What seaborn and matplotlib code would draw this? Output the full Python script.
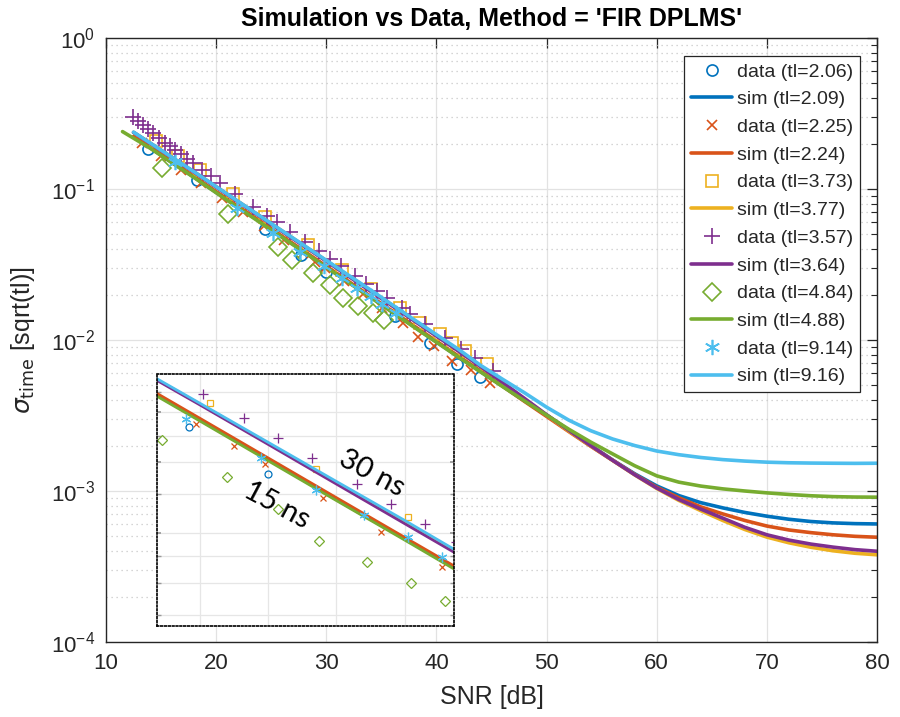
import matplotlib
matplotlib.use("Agg")
import matplotlib.pyplot as plt
import seaborn as sns
import numpy as np
from matplotlib.ticker import LogLocator, NullFormatter, FixedLocator

# ---------------- data ----------------
LABELS_DATA = ["data (tl=2.06)", "data (tl=2.25)", "data (tl=3.73)",
               "data (tl=3.57)", "data (tl=4.84)", "data (tl=9.14)"]
LABELS_SIM = ["sim (tl=2.09)", "sim (tl=2.24)", "sim (tl=3.77)",
              "sim (tl=3.64)", "sim (tl=4.88)", "sim (tl=9.16)"]
COLORS = ["#0072BD", "#D95319", "#EDB120", "#7E2F8E", "#77AC30", "#4DBEEE"]

# simulation curves (SNR grid in dB)
sim_snr = [12.5, 14, 16, 18, 20, 22, 24, 26, 28, 30, 32, 34, 36, 38, 40, 42, 44,
           46, 48, 50, 52, 54, 56, 58, 60, 62, 64, 66, 68, 70, 72, 74, 76, 78, 80]
sim_snr_green = [11.5, 14, 16, 18, 20, 22, 24, 26, 28, 30, 32, 34, 36, 38, 40, 42, 44,
                 46, 48, 50, 52, 54, 56, 58, 60, 62, 64, 66, 68, 70, 72, 74, 76, 78, 80]
sim_blue = [0.2205, 0.1875, 0.1498, 0.1196, 0.0950, 0.0758, 0.0606, 0.0481, 0.0383,
            0.0305, 0.0242, 0.0193, 0.01537, 0.01221, 0.00972, 0.00774, 0.00618,
            0.00496, 0.00396, 0.00318, 0.00253, 0.00201, 0.001603, 0.0013, 0.001081,
            0.000933, 0.000837, 0.000773, 0.000721, 0.000681, 0.00065, 0.000628,
            0.000615, 0.000608, 0.000605]
sim_orange = [0.2225, 0.1895, 0.1514, 0.1208, 0.0960, 0.0766, 0.0612, 0.0486, 0.0387,
              0.0308, 0.0245, 0.0195, 0.01553, 0.01234, 0.00982, 0.00782, 0.00623,
              0.00495, 0.00392, 0.00312, 0.00248, 0.00198, 0.001596, 0.001288,
              0.001059, 0.000902, 0.000785, 0.000705, 0.000638, 0.000586, 0.000552,
              0.00053, 0.000513, 0.000501, 0.000494]
sim_yellow = [0.237, 0.2015, 0.1617, 0.1297, 0.1035, 0.0826, 0.0659, 0.0526, 0.0420,
              0.0335, 0.0267, 0.0213, 0.01693, 0.01346, 0.0107, 0.0085, 0.00669,
              0.00521, 0.00406, 0.00318, 0.0025, 0.00199, 0.001596, 0.001279,
              0.00104, 0.000867, 0.000741, 0.000638, 0.000556, 0.000495, 0.000454,
              0.000424, 0.000402, 0.000387, 0.000378]
sim_purple = [0.237, 0.2010, 0.1612, 0.1292, 0.1030, 0.0822, 0.0656, 0.0523, 0.0418,
              0.0333, 0.0265, 0.0211, 0.0168, 0.01337, 0.01063, 0.00845, 0.00668,
              0.00524, 0.0041, 0.0032, 0.00253, 0.002, 0.001596, 0.001282, 0.001047,
              0.000879, 0.000759, 0.000661, 0.000575, 0.000513, 0.000473, 0.000445,
              0.000425, 0.000409, 0.000399]
sim_green = [0.240, 0.1865, 0.1490, 0.1190, 0.0945, 0.0752, 0.0600, 0.0478, 0.0381,
             0.0303, 0.0241, 0.0192, 0.01525, 0.01213, 0.00967, 0.0077, 0.00615,
             0.00492, 0.00395, 0.00318, 0.00257, 0.00211, 0.00176, 0.00147, 0.00126,
             0.001145, 0.001078, 0.001033, 0.001, 0.000972, 0.000949, 0.00093,
             0.000918, 0.000912, 0.00091]
sim_cyan = [0.238, 0.2020, 0.1620, 0.1300, 0.1037, 0.0828, 0.0661, 0.0528, 0.0422,
            0.0337, 0.0269, 0.0215, 0.01708, 0.0136, 0.01085, 0.00868, 0.0068,
            0.0055, 0.00447, 0.00359, 0.00295, 0.00251, 0.00221, 0.002, 0.00184,
            0.00174, 0.001667, 0.001614, 0.001578, 0.001552, 0.001538, 0.001531,
            0.001527, 0.001524, 0.001527]

# measured data points
data_blue_snr = [13.8, 18.3, 24.4, 27.7, 30.0, 36.2, 39.4, 41.9, 44.0]
data_blue = [0.185, 0.114, 0.0547, 0.0368, 0.0280, 0.0145, 0.0095, 0.0069, 0.0057]
data_orange_snr = [13.3, 15.0, 16.8, 18.6, 20.5, 22.4, 24.3, 26.2, 27.9, 29.0, 29.9,
                   31.6, 33.3, 35.1, 37.0, 38.3, 39.8, 41.4, 43.1, 44.9]
data_orange = [0.201, 0.165, 0.134, 0.109, 0.0878, 0.0706, 0.0567, 0.0456, 0.0375,
               0.0330, 0.0298, 0.0245, 0.0201, 0.0164, 0.0129, 0.0104, 0.0091,
               0.0073, 0.0063, 0.0052]
data_yellow_snr = [14.5, 16.5, 18.5, 21.5, 24.4, 28.3, 31.4, 34.1, 36.7, 38.5, 40.3,
                   41.4, 42.6, 44.6]
data_yellow = [0.207, 0.165, 0.133, 0.092, 0.0648, 0.0423, 0.0289, 0.0219, 0.0164,
               0.0129, 0.0110, 0.0096, 0.0085, 0.0069]
data_purple_snr = [12.45, 12.9, 13.36, 13.81, 14.27, 14.81, 15.36, 15.81, 16.27, 16.81,
                   17.36, 17.9, 18.72, 19.5, 20.35, 21.7, 23.35, 24.6, 25.5, 26.7,
                   28.1, 29.3, 30.3, 31.3, 32.6, 33.6, 34.6, 35.5, 36.9, 37.6, 39.0,
                   40.8, 42.2, 43.5, 45.1]
data_purple = [0.298, 0.2805, 0.264, 0.2485, 0.2338, 0.218, 0.2028, 0.1924, 0.181,
               0.170, 0.1585, 0.149, 0.1344, 0.1218, 0.1094, 0.0929, 0.0762, 0.066,
               0.060, 0.0523, 0.0445, 0.0388, 0.0345, 0.0308, 0.0265, 0.0236, 0.0211,
               0.0190, 0.0162, 0.0149, 0.0127, 0.0103, 0.00877, 0.00755, 0.00628]
data_green_snr = [15.1, 21.1, 25.6, 26.9, 28.8, 30.3, 31.5, 32.9, 34.2, 35.2]
data_green = [0.137, 0.0688, 0.0410, 0.0341, 0.0276, 0.0230, 0.0191, 0.0169, 0.0150,
              0.0135]
data_cyan_snr = [16.3, 21.9, 25.2, 27.6, 29.8, 31.4, 32.8, 34.1, 35.1, 36.3]
data_cyan = [0.152, 0.0754, 0.0515, 0.0385, 0.0308, 0.0256, 0.0222, 0.0195, 0.0174,
             0.0150]

X_TICKS = [10, 20, 30, 40, 50, 60, 70, 80]

# ---------------- styling ----------------
sns.set_theme(style="white")
plt.rcParams["font.family"] = ["Liberation Sans", "DejaVu Sans"]
plt.rcParams["axes.edgecolor"] = "#262626"
plt.rcParams["text.color"] = "#262626"

DATA_SNR = [data_blue_snr, data_orange_snr, data_yellow_snr, data_purple_snr,
            data_green_snr, data_cyan_snr]
DATA_VAL = [data_blue, data_orange, data_yellow, data_purple, data_green, data_cyan]
SIM_SNR = [sim_snr, sim_snr, sim_snr, sim_snr, sim_snr_green, sim_snr]
SIM_VAL = [sim_blue, sim_orange, sim_yellow, sim_purple, sim_green, sim_cyan]
MARKERS = ["o", "x", "s", "+", "D", (6, 2, 0)]
MSIZE = [8, 7, 8, 11, 9.5, 11]
MSIZE_IN = [5, 5, 5, 7, 5.5, 7]

fig = plt.figure(figsize=(9.0, 7.17), dpi=100)
ax = fig.add_axes([106 / 900, 1 - 642 / 717, 771 / 900, 604 / 717])
ax.set_yscale("log")

for i in range(6):
    sns.lineplot(x=DATA_SNR[i], y=DATA_VAL[i], ax=ax, estimator=None, sort=False,
                 linestyle="none", marker=MARKERS[i], markersize=MSIZE[i],
                 markerfacecolor="none", markeredgecolor=COLORS[i],
                 markeredgewidth=1.2, color=COLORS[i], label=LABELS_DATA[i])
    sns.lineplot(x=SIM_SNR[i], y=SIM_VAL[i], ax=ax, estimator=None, sort=False,
                 color=COLORS[i], linewidth=2.6, label=LABELS_SIM[i])

ax.set_xlim(10, 80)
ax.set_ylim(1e-4, 1)
ax.set_xticks(X_TICKS)
ax.yaxis.set_major_locator(LogLocator(base=10, numticks=10))
ax.yaxis.set_minor_locator(LogLocator(base=10, subs=np.arange(2, 10), numticks=20))
ax.yaxis.set_minor_formatter(NullFormatter())
ax.grid(which="major", color="#e2e2e2", linewidth=0.9, linestyle="-")
ax.grid(which="minor", axis="y", color="#c8c8c8", linewidth=0.9, linestyle=(0, (1, 3)))
ax.set_axisbelow(True)
ax.tick_params(which="both", direction="in", top=True, right=True, color="#262626",
               labelcolor="#262626")
ax.tick_params(which="major", length=7, width=0.9, labelsize=16, pad=8)
ax.tick_params(which="minor", length=4, width=0.8)
ax.tick_params(axis="x", which="minor", bottom=False, top=False)
for s in ax.spines.values():
    s.set_linewidth(1.0)
    s.set_color("#262626")

ax.set_title("Simulation vs Data, Method = 'FIR DPLMS'", fontsize=18,
             fontweight="bold", pad=9, color="black")
ax.set_xlabel("SNR [dB]", fontsize=18, labelpad=8, color="#262626")
ax.set_ylabel(r"$\sigma_{\rm time}$ [sqrt(tl)]", fontsize=18, labelpad=10,
              color="#262626")

leg = ax.legend(loc="upper right", bbox_to_anchor=(0.978, 0.970), borderaxespad=0,
                fontsize=14, frameon=True, fancybox=False, framealpha=1,
                edgecolor="#262626", labelspacing=0.52, borderpad=0.35,
                handlelength=2.1, handletextpad=0.25)
leg.get_frame().set_linewidth(0.9)

# ---------------- inset ----------------
axi = fig.add_axes([157 / 900, 1 - 626 / 717, 297 / 900, 252 / 717])
axi.set_yscale("log")
for i in range(6):
    sns.lineplot(x=DATA_SNR[i], y=DATA_VAL[i], ax=axi, estimator=None, sort=False,
                 linestyle="none", marker=MARKERS[i], markersize=MSIZE_IN[i],
                 markerfacecolor="none", markeredgecolor=COLORS[i],
                 markeredgewidth=0.9, color=COLORS[i], legend=False)
    sns.lineplot(x=SIM_SNR[i], y=SIM_VAL[i], ax=axi, estimator=None, sort=False,
                 color=COLORS[i], linewidth=2.0, legend=False)
axi.set_xlim(26.75, 35.45)
axi.set_ylim(0.0117, 0.0499)
axi.set_xticks([28, 30, 32, 34])
axi.yaxis.set_major_locator(FixedLocator([0.02, 0.03, 0.04]))
axi.yaxis.set_minor_locator(FixedLocator([0.0125, 0.015, 0.0175, 0.025, 0.035, 0.045]))
axi.grid(which="both", color="#e6e6e6", linewidth=0.9, linestyle="-")
axi.set_axisbelow(True)
axi.tick_params(which="both", direction="in", left=True, right=True, bottom=False,
                top=False, labelleft=False, labelbottom=False, length=3,
                color="#999999")
axi.set_xlabel("")
axi.set_ylabel("")
axi.set_facecolor("white")
for s in axi.spines.values():
    s.set_linestyle((0, (1, 1.3)))
    s.set_linewidth(1.2)
    s.set_color("black")

axi.text(0.724, 0.607, "30 ns", transform=axi.transAxes, fontsize=21,
         family=["Lato", "DejaVu Sans"], rotation=-28, ha="center", va="center",
         rotation_mode="anchor", color="black")
axi.text(0.404, 0.48, "15 ns", transform=axi.transAxes, fontsize=21,
         family=["Lato", "DejaVu Sans"], rotation=-28, ha="center", va="center",
         rotation_mode="anchor", color="black")

fig.savefig("out.png", dpi=100)
